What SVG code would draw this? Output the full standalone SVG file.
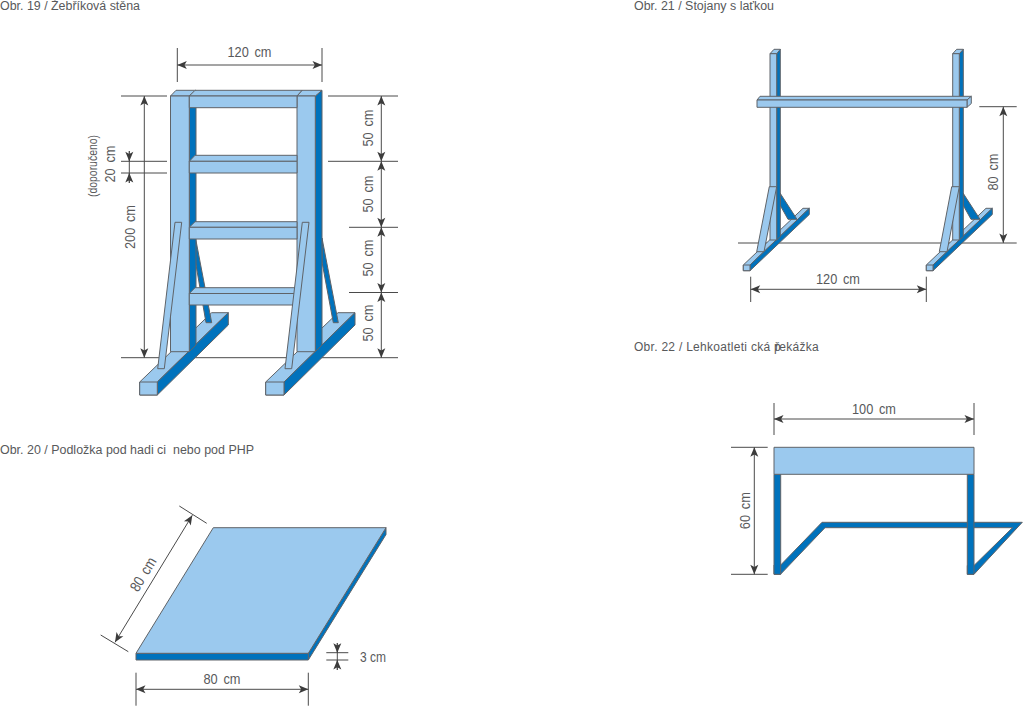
<svg xmlns="http://www.w3.org/2000/svg" width="1024" height="706" viewBox="0 0 1024 706">
<style>
.l{fill:#9bc9ee;stroke:#5f6368;stroke-width:1;stroke-linejoin:round}
.d{fill:#0072bc;stroke:#5f6368;stroke-width:1;stroke-linejoin:round}
.dim{stroke:#4a4a4a;stroke-width:1;fill:none}
.arr{stroke:#4a4a4a;stroke-width:1;fill:none;marker-end:url(#a);marker-start:url(#a)}
.arr1{stroke:#4a4a4a;stroke-width:1;fill:none;marker-end:url(#a)}
text{font-family:"Liberation Sans",Arial,sans-serif;fill:#58595b}
.h{font-size:12px;white-space:pre}
.t{font-size:15px;text-anchor:middle;word-spacing:2.5px}
</style>
<defs>
<marker id="a" markerUnits="userSpaceOnUse" markerWidth="11" markerHeight="10" refX="10" refY="5" orient="auto-start-reverse" overflow="visible"><path d="M0.5 1L10 5L0.5 9L2.8 5Z" fill="#3c3c3c"/></marker>
</defs>

<g id="headings">
<text class="h" x="0" y="10" textLength="140" lengthAdjust="spacingAndGlyphs">Obr. 19 / Žebříková stěna</text>
<text class="h" x="0" y="454" textLength="254" lengthAdjust="spacingAndGlyphs">Obr. 20 / Podložka pod hadi ci  nebo pod PHP</text>
<text class="h" x="634" y="10" textLength="140" lengthAdjust="spacingAndGlyphs">Obr. 21 / Stojany s laťkou</text>
<text class="h" x="634" y="351" style="letter-spacing:.28px">Obr. 22 / Lehkoatleti cká p<tspan dx="-6">ř</tspan>ekážka</text>
</g>

<g id="connectors">
<!-- Fig 19 -->
<path class="dim" d="M177.3 48V82M322 48V82M121 96H167M121 161.3H167M121 173H167M121 357.7H398M328 96H398M328 161.3H398M349 227.3H398M349 292.5H398"/>
<path class="arr" d="M177.3 65H322"/>
<path class="arr" d="M144.3 96V357.7"/>
<path class="arr" d="M381.3 96V161.3"/>
<path class="arr" d="M381.3 161.3V227.3"/>
<path class="arr" d="M381.3 227.3V292.5"/>
<path class="arr" d="M381.3 292.5V357.7"/>
<path class="dim" d="M129.3 151V183"/>
<path class="arr1" d="M129.3 151V161.3"/>
<path class="arr1" d="M129.3 183V173"/>
<!-- Fig 20 -->
<path class="dim" d="M136 672.7V705.7M308.3 672.7V705.7M179.3 506L206.7 523.3M100.7 635L128.3 651.7M326.3 652.7H348.3M326.3 660H348.3M337.3 643V670"/>
<path class="arr" d="M136 689.3H308.3"/>
<path class="arr" d="M192.3 515.3L115 642.3"/>
<path class="arr1" d="M337.3 643V652.7"/>
<path class="arr1" d="M337.3 670V660"/>
<!-- Fig 21 -->
<path class="dim" d="M738 243H1016.7M979.3 106.7H1016.7M750.7 276.7V302M926.3 276.7V302"/>
<path class="arr" d="M1003.3 106.7V243"/>
<path class="arr" d="M750.7 289.3H926.3"/>
<!-- Fig 22 -->
<path class="dim" d="M774 403V435M974 403V435M731 447.3H767.7M731 574.3H767.7"/>
<path class="arr" d="M774 419H974"/>
<path class="arr" d="M754.3 447.3V574.3"/>
</g>

<g id="fig19-left-foot">
<path class="l" d="M139.7 382L211.7 312.7H228.3L157.3 382V395H139.7Z"/>
<path class="d" d="M157.3 382L228.3 312.7V325L157.3 395Z"/>
<path class="l" d="M139.7 382H157.3V395H139.7Z"/>
</g>
<g id="fig19-right-foot">
<path class="l" d="M265.7 382L338 312.7H355L284 382V395H265.7Z"/>
<path class="d" d="M284 382L355 312.7V325L284 395Z"/>
<path class="l" d="M265.7 382H284V395H265.7Z"/>
</g>
<g id="fig19-back-braces">
<path class="d" d="M195.5 238L211.7 322.7H206L195.5 262Z"/>
<path class="d" d="M322 238L338.3 322.7H333.3L322 262Z"/>
</g>
<g id="fig19-left-post">
<path class="d" d="M189.3 96L196 90.3V345L189.3 351.7Z"/>
<path class="l" d="M170.5 96L176 90.3H196L189.3 96Z"/>
<path class="l" d="M170.5 96H189.3V351.7H170.5Z"/>
</g>
<g id="fig19-right-post">
<path class="d" d="M315.3 96L322 90.3V345L315.3 351.7Z"/>
<path class="l" d="M297 96L302 90.3H322L315.3 96Z"/>
<path class="l" d="M297 96H315.3V351.7H297Z"/>
</g>
<g id="fig19-rungs">
<path class="l" d="M189.3 96L195 90.3H302L297 96Z"/>
<path class="l" d="M189.3 96H297V107.7H189.3Z"/>
<path class="l" d="M189.3 161.3L195 155.3H297V161.3Z"/>
<path class="l" d="M189.3 161.3H297V173H189.3Z"/>
<path class="l" d="M189.3 227.3L195 221.7H297V227.3Z"/>
<path class="l" d="M189.3 227.3H297V239H189.3Z"/>
<path class="l" d="M189.3 293.5L195 287.7H297V293.5Z"/>
<path class="l" d="M189.3 293.5H297V305H189.3Z"/>
</g>
<g id="fig19-front-braces">
<path class="l" d="M175 222.3H181.7L164.3 368.7H157.7Z"/>
<path class="l" d="M302.3 222.3H309L291.7 368.7H285Z"/>
</g>

<g id="fig20-board">
<path class="d" d="M308.3 653.3L386 527.7V534.5L308.3 660Z"/>
<path class="d" d="M136 653.3H308.3V660H136Z"/>
<path class="l" d="M213.3 527.7H386L308.3 653.3H136Z"/>
</g>

<g id="fig21-left-stand">
<path class="l" d="M743.3 265L803 208.3H809.3L750 265V270.7H743.3Z"/>
<path class="d" d="M750 265L809.3 208.3V214.5L750 270.7Z"/>
<path class="l" d="M743.3 265H750V270.7H743.3Z"/>
<path class="d" d="M780 193L797 219.3H788L780 205Z"/>
<path class="d" d="M776.7 53.7L780.3 49.3V236.5L776.7 240Z"/>
<path class="l" d="M770 53.7L774 49.3H780.3L776.7 53.7Z"/>
<path class="l" d="M770 53.7H776.7V240H770Z"/>
<path class="l" d="M769.3 186.7H776.7L764 251.7H756.7Z"/>
</g>
<g id="fig21-right-stand">
<path class="l" d="M926.3 265L986 208.3H992.3L933 265V270.7H926.3Z"/>
<path class="d" d="M933 265L992.3 208.3V214.5L933 270.7Z"/>
<path class="l" d="M926.3 265H933V270.7H926.3Z"/>
<path class="d" d="M963 193L980 219.3H971L963 205Z"/>
<path class="d" d="M959.3 53.7L963.3 49.3V236.5L959.3 240Z"/>
<path class="l" d="M952.7 53.7L956.7 49.3H963.3L959.3 53.7Z"/>
<path class="l" d="M952.7 53.7H959.3V240H952.7Z"/>
<path class="l" d="M951.7 186.7H959.3L947 251.7H939.3Z"/>
</g>
<g id="fig21-bar">
<path class="l" d="M757 100L760 96.3H971.3L967 100Z"/>
<path class="l" d="M967 100L971.3 96.3V103.5L967 107.3Z"/>
<path class="l" d="M757 100H967V107.3H757Z"/>
</g>

<g id="fig22-hurdle">
<path class="d" d="M780.7 565L822 522.3H1022.3L974 574.3H967.3V565.5L974 565.5L1012.5 527.7H825L780.5 574.3H774V565Z"/>
<path class="d" d="M774 474.3H780.7V574.3H774Z"/>
<path class="d" d="M967.3 474.3H974V574.3H967.3Z"/>
<path class="l" d="M774 447.3H974V474.3H774Z"/>
</g>

<g id="dimension-labels">
<text class="t" x="249.5" y="57" textLength="44" lengthAdjust="spacingAndGlyphs">120 cm</text>
<text class="t" transform="translate(135,227) rotate(-90)" textLength="44" lengthAdjust="spacingAndGlyphs">200 cm</text>
<text class="t" transform="translate(115,164) rotate(-90)" textLength="37" lengthAdjust="spacingAndGlyphs">20 cm</text>
<text transform="translate(97,166) rotate(-90)" style="font-size:12px;text-anchor:middle" textLength="62" lengthAdjust="spacingAndGlyphs">(doporučeno)</text>
<text class="t" transform="translate(372.7,128) rotate(-90)" textLength="37" lengthAdjust="spacingAndGlyphs">50 cm</text>
<text class="t" transform="translate(372.7,194) rotate(-90)" textLength="37" lengthAdjust="spacingAndGlyphs">50 cm</text>
<text class="t" transform="translate(372.7,258) rotate(-90)" textLength="37" lengthAdjust="spacingAndGlyphs">50 cm</text>
<text class="t" transform="translate(372.7,323) rotate(-90)" textLength="37" lengthAdjust="spacingAndGlyphs">50 cm</text>
<text class="t" x="222" y="684" textLength="37" lengthAdjust="spacingAndGlyphs">80 cm</text>
<text class="t" transform="translate(147.5,577) rotate(-58.7)" textLength="37" lengthAdjust="spacingAndGlyphs">80 cm</text>
<text x="360" y="662" style="font-size:15px" textLength="26" lengthAdjust="spacingAndGlyphs">3 cm</text>
<text class="t" transform="translate(998.3,172) rotate(-90)" textLength="37" lengthAdjust="spacingAndGlyphs">80 cm</text>
<text class="t" x="838" y="284" textLength="44" lengthAdjust="spacingAndGlyphs">120 cm</text>
<text class="t" x="874" y="414" textLength="44" lengthAdjust="spacingAndGlyphs">100 cm</text>
<text class="t" transform="translate(749.5,510.7) rotate(-90)" textLength="37" lengthAdjust="spacingAndGlyphs">60 cm</text>
</g>
</svg>
